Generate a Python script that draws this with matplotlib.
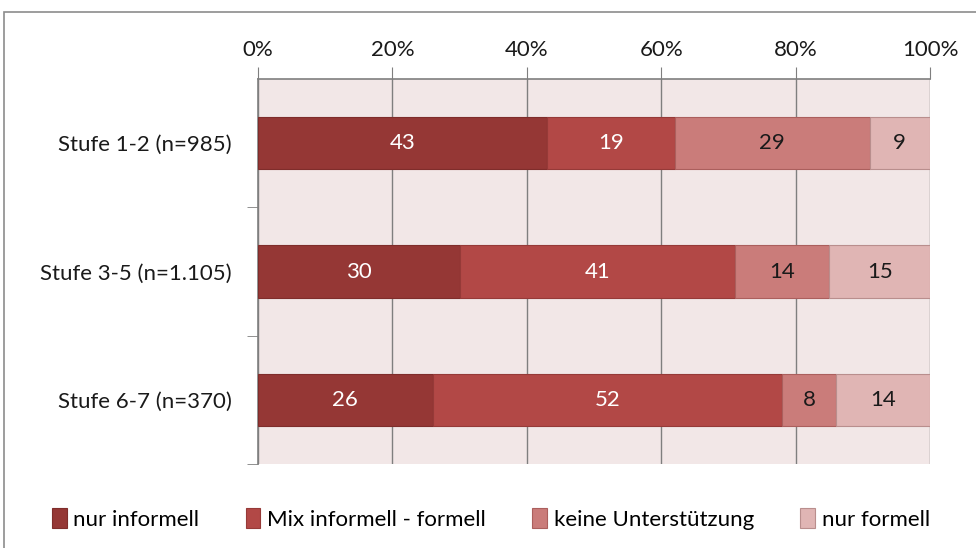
import numpy as np
import matplotlib
matplotlib.use("Agg")
import matplotlib.pyplot as plt
from matplotlib.patches import Rectangle
from matplotlib.ticker import FixedLocator, PercentFormatter

plt.rcParams["font.family"] = ["Lato", "DejaVu Sans"]

categories = ["Stufe 1-2 (n=985)", "Stufe 3-5 (n=1.105)", "Stufe 6-7 (n=370)"]
series = ["nur informell", "Mix informell - formell", "keine Unterstützung", "nur formell"]
nur_informell = [43, 30, 26]
mix = [19, 41, 52]
keine = [29, 14, 8]
nur_formell = [9, 15, 14]
values = [nur_informell, mix, keine, nur_formell]

colors = ["#953735", "#B24846", "#CA7C7A", "#E0B5B4"]
edges = ["#7f2d2b", "#963a38", "#ab5f5d", "#b98e8d"]
text_colors = ["white", "white", "#1a1a1a", "#1a1a1a"]
fs = 16

fig = plt.figure(figsize=(9.76, 5.48), dpi=100)
fig.patches.append(Rectangle((4 / 976, -0.1), 1.1, 1 - 12 / 548 + 0.1,
                             transform=fig.transFigure, fill=False,
                             edgecolor="#8c8c8c", linewidth=1.2))
ax = fig.add_axes([258 / 976, 1 - 464 / 548, 672 / 976, 385 / 548])
ax.set_facecolor("#F2E7E7")

y = np.arange(len(categories))
left = np.zeros(len(categories))
for vals, name, c, ec, tc in zip(values, series, colors, edges, text_colors):
    vals = np.array(vals, dtype=float)
    ax.barh(y, vals, left=left, height=0.41, color=c, edgecolor=ec,
            linewidth=0.8, label=name, zorder=3)
    for yi, l, v in zip(y, left, vals):
        ax.text(l + v / 2, yi, f"{v:.0f}", ha="center", va="center",
                color=tc, fontsize=fs, zorder=4)
    left += vals

ax.set_xlim(0, 100)
ax.set_ylim(2.5, -0.5)
ax.xaxis.set_major_locator(FixedLocator([0, 20, 40, 60, 80, 100]))
ax.xaxis.set_major_formatter(PercentFormatter(decimals=0))
ax.xaxis.tick_top()
ax.tick_params(axis="x", which="major", length=9, color="#7f7f7f",
               labelsize=fs, pad=5, labelcolor="#1a1a1a")
ax.grid(axis="x", color="#7f7f7f", linewidth=1, zorder=1)

ax.set_yticks(y)
ax.set_yticklabels(categories)
ax.yaxis.set_minor_locator(FixedLocator([0.5, 1.5, 2.5]))
ax.tick_params(axis="y", which="major", length=0, labelsize=fs, pad=19,
               labelcolor="#1a1a1a")
ax.tick_params(axis="y", which="minor", length=8, color="#7f7f7f")

for s in ["bottom", "right"]:
    ax.spines[s].set_visible(False)
for s in ["top", "left"]:
    ax.spines[s].set_color("#7f7f7f")
    ax.spines[s].set_linewidth(1.2)

ax.legend(loc="center", bbox_to_anchor=(0.503, 0.053), bbox_transform=fig.transFigure,
          ncol=4, frameon=False, fontsize=fs, handlelength=0.65, handleheight=1.0,
          handletextpad=0.3, columnspacing=2.1)

fig.savefig("out.png", dpi=100)
